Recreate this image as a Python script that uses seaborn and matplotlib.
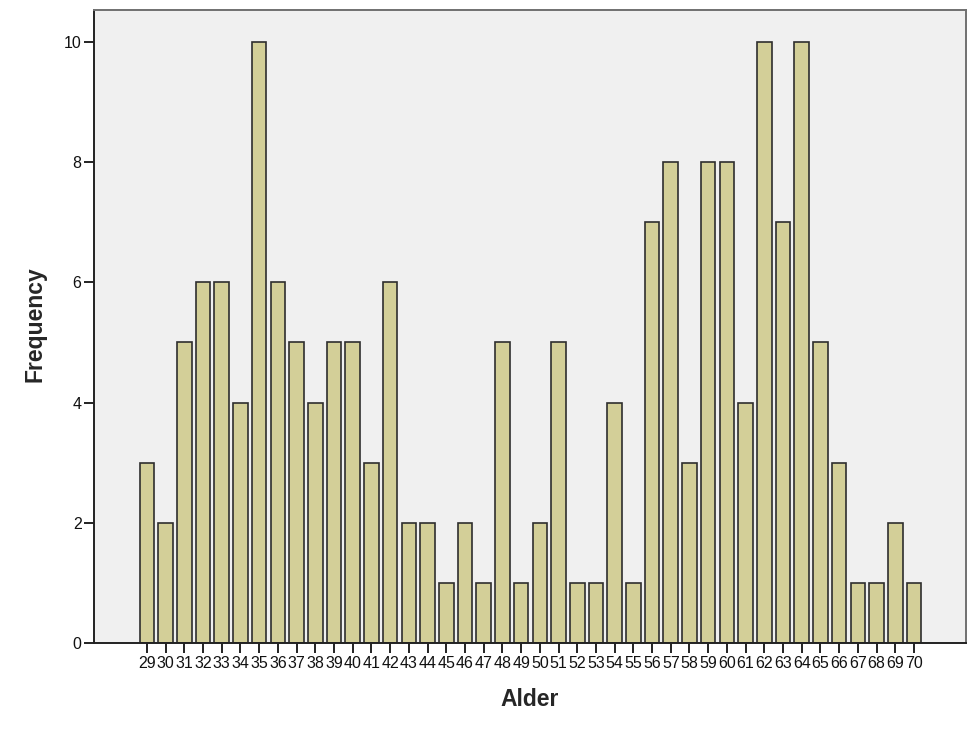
import matplotlib
matplotlib.use("Agg")
import matplotlib.pyplot as plt
import seaborn as sns
import pandas as pd

ages = list(range(29, 71))
freq = [3, 2, 5, 6, 6, 4, 10, 6, 5, 4, 5, 5, 3, 6, 2, 2, 1, 2, 1, 5, 1, 2, 5, 1, 1,
        4, 1, 7, 8, 3, 8, 8, 4, 10, 7, 10, 5, 3, 1, 1, 2, 1]
yticks = [0, 2, 4, 6, 8, 10]

df = pd.DataFrame({"Alder": [str(a) for a in ages], "Frequency": freq})

sns.set_style("white")
plt.rcParams['font.family'] = ['Liberation Sans', 'DejaVu Sans']

fig = plt.figure(figsize=(9.8, 7.37), dpi=100)
ax = fig.add_axes([94/980, 1-643/737, (966-94)/980, (643-10)/737])
ax.set_facecolor("#f0f0f0")

sns.barplot(data=df, x="Alder", y="Frequency", color="#d3cf98", saturation=1,
            width=0.78, edgecolor="#2e2e2e", linewidth=1.2, ax=ax)

ax.set_xlim(-2.83, 43.78)
ax.set_ylim(0, 10.53)
ax.set_yticks(yticks)
ax.set_yticklabels([str(t) for t in yticks])

ax.tick_params(axis="both", direction="out", length=7.5, width=1.4, color="#222222",
               labelsize=11.5, labelcolor="#111111", pad=1.5, bottom=True, left=True)
for lab in ax.get_xticklabels():
    lab.set_fontsize(11.5)

ax.set_xlabel("Alder", fontsize=16.5, fontweight="bold")
ax.set_ylabel("Frequency", fontsize=16.5, fontweight="bold")
ax.xaxis.set_label_coords(0.5 + (530 - 530) / 872, -0.071)
ax.yaxis.set_label_coords(-0.054, 0.5 + (643 - 324 - 316.5) / 633)

for s in ["left", "bottom"]:
    ax.spines[s].set_color("#222222")
    ax.spines[s].set_linewidth(1.4)
for s in ["top", "right"]:
    ax.spines[s].set_color("#707070")
    ax.spines[s].set_linewidth(1.4)

fig.savefig("out.png", dpi=100, facecolor="white")
